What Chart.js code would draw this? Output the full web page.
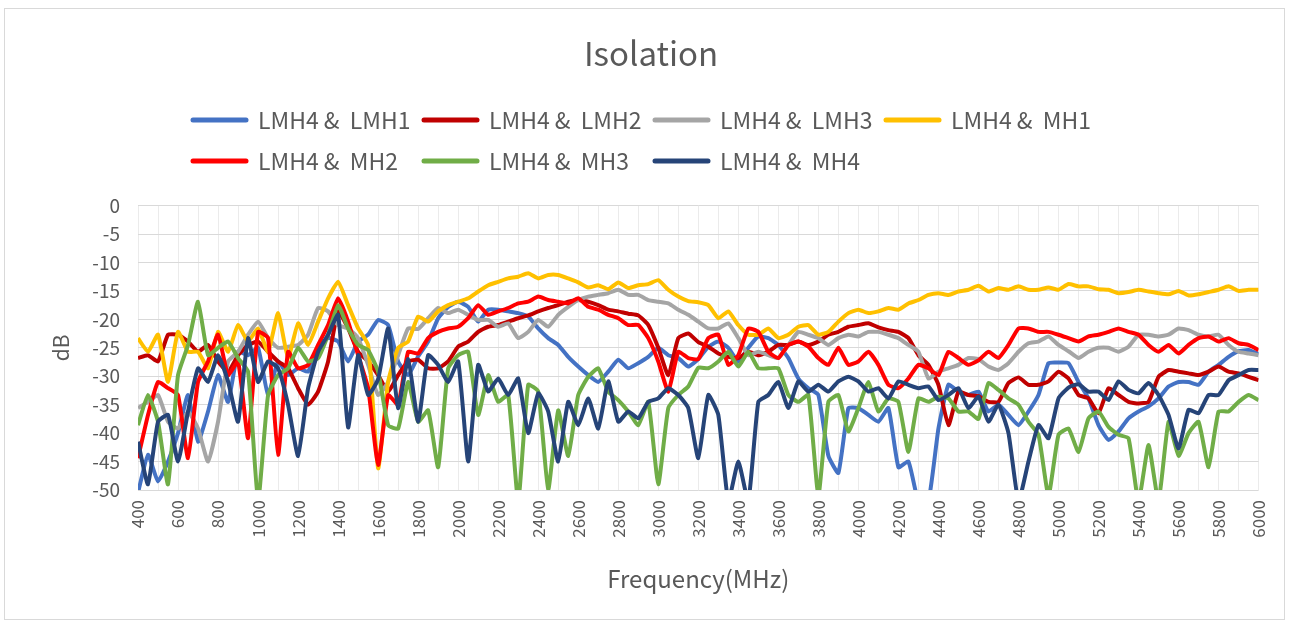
<!DOCTYPE html>
<html>
<head>
<meta charset="utf-8">
<title>Isolation</title>
<script src="https://cdn.jsdelivr.net/npm/chart.js@4.4.1/dist/chart.umd.min.js"></script>
<style>
  html, body { margin: 0; padding: 0; background: #fff; overflow: hidden; }
  canvas { display: block; }
</style>
</head>
<body>
<canvas id="myChart" width="1289" height="625"></canvas>
<script>
// frequency points, MHz (400 .. 6000, every 50)
const freqs = Array.from({ length: 113 }, (_, i) => 400 + i * 50);

const seriesNames = ['LMH4 &  LMH1', 'LMH4 &  LMH2', 'LMH4 &  LMH3', 'LMH4 &  MH1',
                     'LMH4 &  MH2', 'LMH4 &  MH3', 'LMH4 &  MH4'];
const seriesColors = ['#4472C4', '#C00000', '#A5A5A5', '#FFC000', '#FF0000', '#70AD47', '#264478'];

const yTicks = [0, -5, -10, -15, -20, -25, -30, -35, -40, -45, -50];

// one row = 500 MHz
const lmh1 = [
  -50.5, -43.8, -48.5, -45, -40, -33.3, -41.5, -36.2, -29.8, -34.5,
  -25.7, -26.3, -25, -33.3, -27.4, -29.8, -28.6, -29.2, -25, -23.3,
  -23.9, -27.4, -23.9, -22.7, -20.1, -21, -27.4, -29.8, -26.5, -23.9,
  -19.8, -17.8, -16.9, -17.8, -20.4, -18.3, -18.3, -18.6, -18.9, -19.5,
  -21.6, -23.3, -24.5, -26.6, -28.3, -29.8, -31, -29.2, -27.1, -28.6,
  -27.7, -26.6, -25, -26.3, -26.8, -28.3, -27, -24.8, -23.9, -25,
  -27.4, -25, -23, -23.3, -24.5, -26.8, -30.4, -32.1, -33.3, -44,
  -47, -35.6, -35.6, -36.8, -38, -35.6, -46, -45, -52, -52,
  -39.2, -31.5, -32.7, -33.3, -32.7, -36.2, -35, -36.8, -38.6, -36.2,
  -33.3, -27.7, -27.6, -27.7, -31, -33.9, -38.6, -41.2, -39.7, -37.4,
  -36.2, -35.3, -33.9, -31.8, -31, -31, -31.5, -29.2, -28, -26.6,
  -25.6, -25.4, -26.1
];

const lmh2 = [
  -26.8, -26.3, -27.4, -22.7, -22.7, -23.9, -25.7, -24.5, -27.4, -29.2,
  -26.3, -24.5, -23.9, -25.7, -27.4, -28.6, -32.1, -35, -32.7, -27.4,
  -18.6, -21.6, -25.7, -27.4, -29.8, -32.7, -29.8, -27.4, -27.1, -28.6,
  -28.6, -27.4, -24.8, -23.9, -22.2, -21.3, -21, -20.4, -19.8, -19.3,
  -18.6, -18, -17.5, -16.9, -16.6, -16.9, -17.5, -18.3, -18.6, -19,
  -19.3, -21, -25, -29.8, -23.3, -22.5, -24, -24.8, -26, -26.6,
  -26.8, -25.7, -26.3, -25.7, -24.5, -24.5, -23.9, -24.5, -23.9, -22.7,
  -22.2, -21.3, -21, -20.7, -21.4, -21.9, -22.2, -23.3, -26.3, -28,
  -31.5, -38.6, -32.7, -33.3, -33.5, -34.5, -34.5, -31.2, -30.2, -31.5,
  -31.5, -30.9, -29.2, -30.4, -33.3, -33.9, -36.5, -32.1, -33.3, -34.5,
  -34.8, -34.5, -30.1, -28.9, -29.2, -29.5, -29.8, -29.2, -28.3, -29.2,
  -29.5, -30.1, -30.7
];

const lmh3 = [
  -35.6, -34.5, -33.3, -38, -39.2, -36.2, -39.2, -45, -38, -27.4,
  -25.7, -22.7, -20.4, -23.3, -25, -24.8, -24.5, -22.7, -18, -18.6,
  -21, -21.6, -23.3, -28, -33.3, -31, -26.3, -21.6, -21.7, -19.8,
  -18, -18.9, -18.3, -19.2, -20.1, -20.1, -21.3, -20.7, -23.3, -22.2,
  -20.1, -21.3, -19.2, -17.8, -16.6, -16, -15.7, -15.4, -14.8, -15.7,
  -15.7, -16.6, -16.9, -17.2, -18.3, -19.2, -20.4, -21.6, -21.6, -20.7,
  -23.3, -26.3, -25.7, -26.3, -26.8, -24.5, -22.2, -22.7, -23.3, -24.5,
  -23.3, -22.7, -23, -22.2, -22.2, -22.7, -23.3, -24.5, -25.7, -30.4,
  -29.2, -28.6, -28, -26.8, -27, -28.3, -28.9, -27.7, -25.7, -24.2,
  -23.9, -23, -24.5, -25.6, -26.8, -25.7, -25, -25, -25.7, -24.8,
  -22.7, -22.7, -23, -22.7, -21.6, -21.9, -22.7, -23, -22.7, -24.5,
  -25.7, -26, -26.3
];

const mh1 = [
  -23.3, -25.7, -22.7, -31, -22.2, -25.7, -25.7, -28.6, -22.2, -25.7,
  -21, -23.9, -21.6, -25.7, -18.9, -26.8, -20.7, -24.5, -20.4, -16.3,
  -13.4, -17.5, -21.6, -24.5, -46.2, -31, -25, -23.9, -19.5, -20.4,
  -18.6, -17.5, -16.9, -16.3, -15.1, -14, -13.4, -12.8, -12.5, -11.9,
  -12.8, -12.2, -12.2, -12.8, -13.5, -14.4, -14, -14.7, -13.5, -14.5,
  -14, -13.8, -13.1, -14.8, -16, -16.8, -17, -17.5, -19.8, -18.6,
  -21, -22.7, -22.7, -21.6, -23.3, -22.7, -21.3, -21, -22.7, -22.2,
  -20.4, -18.9, -18.3, -18.9, -18.6, -18, -18.3, -17.2, -16.6, -15.7,
  -15.4, -15.7, -15.1, -14.8, -14.1, -15.1, -14.5, -14.8, -14.2, -14.8,
  -14.8, -14.4, -14.8, -13.8, -14.2, -14.2, -14.7, -14.8, -15.4, -15.2,
  -14.8, -15.1, -15.4, -15.6, -15, -15.8, -15.6, -15.2, -14.8, -14.2,
  -15, -14.8, -14.8
];

const mh2 = [
  -44.4, -36.8, -31, -32.1, -33.3, -44.4, -31, -27.4, -22.7, -29.8,
  -27.4, -40.9, -22.2, -23.3, -43.8, -25.7, -28.6, -28, -24.5, -21,
  -16.3, -20.4, -26.3, -32.1, -45.6, -33.3, -35, -25.7, -26, -23.3,
  -22.2, -21.6, -21.3, -19.8, -17.5, -19.2, -18.6, -18, -17.2, -16.9,
  -16, -16.6, -16.9, -17.2, -16.3, -17.8, -18.3, -19.2, -19.8, -21,
  -21, -23.3, -27.4, -32.7, -25.7, -26.8, -27, -23.3, -22.7, -28,
  -26.3, -21.6, -22.2, -25.7, -26.8, -24.5, -23.9, -24.8, -26.8, -28,
  -25, -28, -27.4, -25.7, -28, -31.5, -32.1, -30.4, -28, -28.6,
  -29.8, -25.7, -26.8, -28, -27.2, -25.7, -26.8, -24.5, -21.6, -21.6,
  -22.2, -22.2, -22.7, -23.3, -23.9, -23, -22.7, -22.2, -21.6, -22.2,
  -22.7, -24.5, -25.7, -24.5, -26, -24.5, -23.3, -23, -23.9, -23.3,
  -24.2, -24.5, -25.4
];

const mh3 = [
  -38.6, -33.3, -38, -49, -29.8, -24.5, -16.9, -26.3, -25, -23.9,
  -26.8, -29.2, -52, -33.3, -29.8, -28.6, -25, -27.4, -26.8, -22.7,
  -17.5, -21.6, -24.5, -25.4, -29.2, -38.6, -39.2, -31, -38, -36,
  -46, -28.6, -26.3, -25.7, -36.8, -29.8, -34.5, -33.3, -52, -31.5,
  -32.7, -50, -36, -44, -33.3, -30.1, -28.6, -32.7, -34.2, -36.2,
  -38.6, -34.5, -49, -35.6, -33.3, -31.8, -28.5, -28.6, -27.4, -25.7,
  -28.3, -25.7, -28.6, -28.6, -28.6, -33.3, -34.5, -33.3, -51, -34.5,
  -33.3, -39.7, -35.6, -31, -36.2, -33.9, -34.5, -43.3, -33.9, -34.5,
  -33.6, -33.9, -36.2, -36.2, -37.5, -31.2, -32.4, -33.9, -35, -38,
  -40.3, -51, -40.3, -39.2, -43.3, -37.4, -36.2, -38.9, -40.3, -40.9,
  -52, -42.1, -52, -38, -44, -40, -38, -46, -36.2, -36.2,
  -34.5, -33.3, -34.2
];

const mh4 = [
  -41.5, -49, -38, -36.8, -45, -36.2, -28.6, -31, -26.3, -30.9,
  -38, -23.3, -31, -27.4, -28.6, -35, -44, -32.1, -25.7, -22.7,
  -19.2, -39, -26.3, -33.3, -30.5, -21.6, -35.6, -27, -38, -26.3,
  -28, -31, -27.4, -45, -28, -32.7, -30.4, -33.3, -30.4, -40,
  -33, -36.2, -45, -34.5, -38.6, -33.9, -39.2, -30.9, -38, -36.2,
  -37.4, -34.5, -33.9, -32.1, -33.3, -35.6, -44.4, -33.3, -36.8, -52,
  -45, -52, -34.5, -33.3, -31, -35.6, -30.9, -32.7, -31.5, -32.7,
  -30.9, -30.1, -30.9, -32.7, -32.1, -33.9, -30.9, -31.5, -32.1, -31.8,
  -34.2, -33.3, -32.1, -35.6, -33.6, -38, -35, -40, -52, -45,
  -38.6, -40.9, -33.9, -32, -31.4, -32.7, -32.7, -34.2, -30.9, -32.4,
  -33, -31.2, -33.3, -36.8, -42.7, -35.9, -36.5, -33.3, -33.3, -30.7,
  -29.8, -28.9, -28.9
];

const allSeries = [lmh1, lmh2, lmh3, mh1, mh2, mh3, mh4];

const ctx = document.getElementById('myChart');
const FONT = '"Noto Sans CJK SC", "Noto Sans", sans-serif';

// outer frame of the chart
const framePlugin = {
  id: 'frame',
  beforeDraw(chart) {
    const c = chart.ctx;
    c.save();
    c.fillStyle = '#ffffff';
    c.fillRect(0, 0, chart.width, chart.height);
    c.strokeStyle = '#D9D9D9';
    c.lineWidth = 1;
    c.strokeRect(4.5, 8.5, 1280, 611);
    c.restore();
  }
};

// legend laid out as a grid, 4 per row like the Excel one
const gridLegend = {
  id: 'gridLegend',
  afterDraw(chart) {
    const c = chart.ctx;
    c.save();
    c.font = '23px ' + FONT;
    c.fillStyle = '#595959';
    c.textBaseline = 'middle';
    c.lineCap = 'round';
    chart.data.datasets.forEach((ds, i) => {
      const x = 193 + (i % 4) * 231;
      const y = 120 + Math.floor(i / 4) * 41;
      c.strokeStyle = ds.borderColor;
      c.lineWidth = 5;
      c.beginPath();
      c.moveTo(x, y);
      c.lineTo(x + 53, y);
      c.stroke();
      c.fillText(ds.label, x + 65, y);
    });
    c.restore();
  }
};

new Chart(ctx, {
  type: 'line',
  data: {
    datasets: allSeries.map((vals, i) => ({
      label: seriesNames[i],
      data: freqs.map((f, j) => ({ x: f, y: vals[j] })),
      borderColor: seriesColors[i],
      backgroundColor: seriesColors[i],
      borderWidth: 4,
      pointRadius: 0,
      tension: 0.15,
      fill: false,
      order: allSeries.length - i
    }))
  },
  options: {
    responsive: false,
    animation: false,
    layout: { padding: { left: 40, right: 27, top: 0, bottom: 30 } },
    plugins: {
      legend: { display: false },
      tooltip: { enabled: false },
      title: {
        display: true,
        text: 'Isolation',
        color: '#595959',
        font: { family: FONT, size: 33, weight: 'normal' },
        padding: { top: 34, bottom: 132 }
      }
    },
    scales: {
      x: {
        type: 'linear',
        min: 400,
        max: 6000,
        afterFit(scale) { scale.height = 105; },
        border: { display: false },
        grid: { color: '#EBEBEB', lineWidth: 1, drawTicks: false },
        ticks: {
          stepSize: 100,
          autoSkip: false,
          minRotation: 90,
          maxRotation: 90,
          padding: 10,
          color: '#595959',
          font: { family: FONT, size: 17 },
          callback: v => (v % 200 === 0 ? String(v) : '')
        },
        title: {
          display: true,
          text: 'Frequency(MHz)',
          color: '#595959',
          font: { family: FONT, size: 24 },
          padding: { top: 0, bottom: 2 }
        }
      },
      y: {
        min: -50,
        max: 0,
        afterFit(scale) { scale.width = 98; },
        afterBuildTicks(scale) { scale.ticks = yTicks.map(v => ({ value: v })); },
        border: { display: false },
        grid: { color: '#D9D9D9', lineWidth: 1, drawTicks: false },
        ticks: {
          padding: 18,
          color: '#595959',
          font: { family: FONT, size: 19 }
        },
        title: {
          display: true,
          text: 'dB',
          color: '#595959',
          font: { family: FONT, size: 21 },
          padding: { top: 8 }
        }
      }
    }
  },
  plugins: [framePlugin, gridLegend]
});
</script>
</body>
</html>
